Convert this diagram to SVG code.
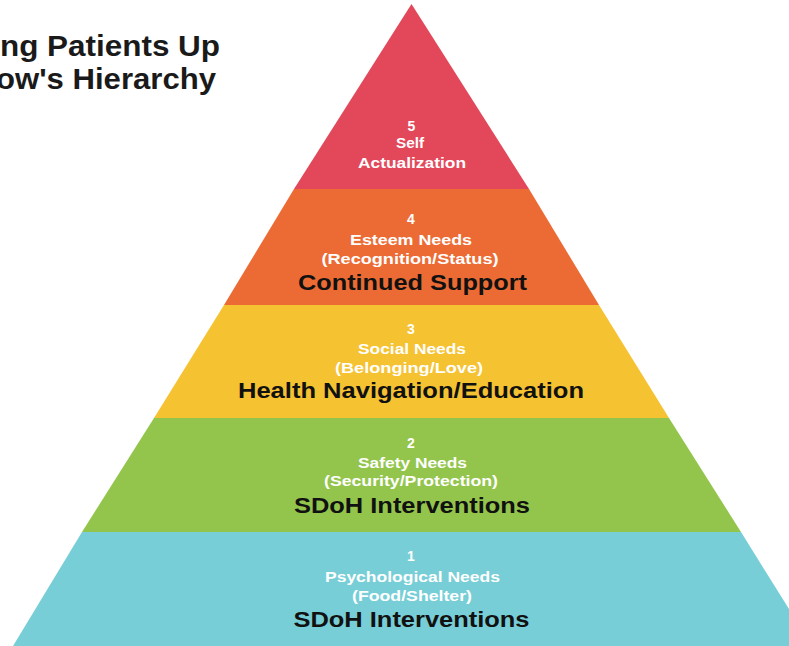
<svg xmlns="http://www.w3.org/2000/svg" width="789" height="646" viewBox="0 0 789 646">
<style>
.title{font-family:"Liberation Sans",Arial,sans-serif;font-weight:bold;font-size:29px;fill:#1a1a1a}
.sm{font-family:"Liberation Sans",Arial,sans-serif;font-weight:bold;font-size:14px;fill:#ffffff;text-anchor:middle}
.big{font-family:"Liberation Sans",Arial,sans-serif;font-weight:bold;font-size:22px;fill:#111111;text-anchor:middle}
</style>
<rect width="789" height="646" fill="#ffffff"/>
<g id="title">
<text class="title" x="0" y="56" textLength="220" lengthAdjust="spacingAndGlyphs">ng Patients Up</text>
<text class="title" x="-4" y="89" textLength="220" lengthAdjust="spacingAndGlyphs">ow's Hierarchy</text>
</g>
<g id="level5">
<polygon points="411.5,4 529,189 294,189" fill="#E2485A"/>
<text class="sm" x="411.5" y="131">5</text>
<text class="sm" x="410" y="148" textLength="28" lengthAdjust="spacingAndGlyphs">Self</text>
<text class="sm" x="412" y="168" textLength="108" lengthAdjust="spacingAndGlyphs">Actualization</text>
</g>
<g id="level4">
<polygon points="294,189 529,189 599,305 224,305" fill="#EC6B34"/>
<text class="sm" x="411" y="224">4</text>
<text class="sm" x="411" y="245" textLength="122" lengthAdjust="spacingAndGlyphs">Esteem Needs</text>
<text class="sm" x="410" y="264" textLength="177" lengthAdjust="spacingAndGlyphs">(Recognition/Status)</text>
<text class="big" x="412.5" y="290" textLength="229" lengthAdjust="spacingAndGlyphs">Continued Support</text>
</g>
<g id="level3">
<polygon points="224,305 599,305 669,418 154,418" fill="#F5C232"/>
<text class="sm" x="411" y="334">3</text>
<text class="sm" x="412" y="354" textLength="108" lengthAdjust="spacingAndGlyphs">Social Needs</text>
<text class="sm" x="409" y="373" textLength="148" lengthAdjust="spacingAndGlyphs">(Belonging/Love)</text>
<text class="big" x="411" y="398" textLength="346" lengthAdjust="spacingAndGlyphs">Health Navigation/Education</text>
</g>
<g id="level2">
<polygon points="154,418 669,418 741,532 82,532" fill="#93C54C"/>
<text class="sm" x="411" y="448">2</text>
<text class="sm" x="412.5" y="468" textLength="109" lengthAdjust="spacingAndGlyphs">Safety Needs</text>
<text class="sm" x="411" y="486" textLength="174" lengthAdjust="spacingAndGlyphs">(Security/Protection)</text>
<text class="big" x="412" y="513" textLength="236" lengthAdjust="spacingAndGlyphs">SDoH Interventions</text>
</g>
<g id="level1">
<polygon points="82,532 741,532 812,646 13,646" fill="#77CED6"/>
<text class="sm" x="411" y="561">1</text>
<text class="sm" x="412.5" y="582" textLength="175" lengthAdjust="spacingAndGlyphs">Psychological Needs</text>
<text class="sm" x="412" y="601" textLength="120" lengthAdjust="spacingAndGlyphs">(Food/Shelter)</text>
<text class="big" x="411.5" y="627" textLength="236" lengthAdjust="spacingAndGlyphs">SDoH Interventions</text>
</g>
</svg>
